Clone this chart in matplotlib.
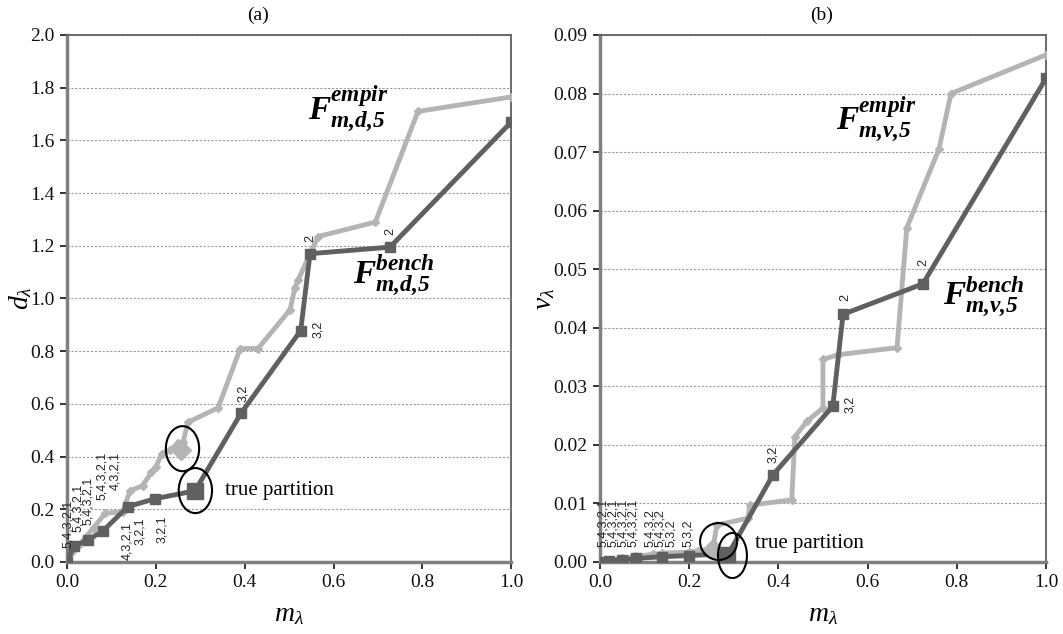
import matplotlib
matplotlib.use("Agg")
import matplotlib.pyplot as plt
from matplotlib.patches import Ellipse

plt.rcParams['font.family'] = ['Liberation Serif', 'DejaVu Serif']
plt.rcParams['mathtext.fontset'] = 'custom'
plt.rcParams['mathtext.it'] = 'Liberation Serif:italic'
plt.rcParams['mathtext.rm'] = 'Liberation Serif:italic:bold'

# ---- data, panel (a): m_lambda vs d_lambda ----
a_bench_m = [0.0, 0.016, 0.047, 0.081, 0.137, 0.198, 0.288, 0.392, 0.526, 0.547, 0.727, 1.0]
a_bench_d = [0.0, 0.06, 0.083, 0.118, 0.21, 0.24, 0.27, 0.565, 0.878, 1.17, 1.195, 1.67]
a_emp_m = [0.0, 0.03, 0.06, 0.086, 0.125, 0.142, 0.17, 0.19, 0.2, 0.213, 0.232,
           0.25, 0.262, 0.257, 0.272, 0.34, 0.39, 0.43, 0.502, 0.513, 0.52, 0.565, 0.694, 0.79, 1.0]
a_emp_d = [0.0, 0.07, 0.13, 0.185, 0.19, 0.27, 0.29, 0.34, 0.36, 0.41, 0.425,
           0.45, 0.455, 0.425, 0.53, 0.585, 0.81, 0.81, 0.957, 1.04, 1.07, 1.235, 1.29, 1.71, 1.765]
a_true_bench = (0.288, 0.27)
a_true_emp = (0.257, 0.425)

a_lab_text = ["5,4,3,2,1", "5,4,3,2,1", "5,4,3,2,1", "5,4,3,2,1", "4,3,2,1",
              "4,3,2,1", "3,2,1", "3,2,1", "3,2", "3,2", "2", "2"]
a_lab_m = [0.002, 0.025, 0.047, 0.079, 0.108, 0.135, 0.164, 0.214, 0.396, 0.564, 0.547, 0.727]
a_lab_d = [0.053, 0.114, 0.14, 0.235, 0.273, 0.152, 0.171, 0.178, 0.607, 0.884, 1.215, 1.24]
a_lab_va = ["bottom", "bottom", "bottom", "bottom", "bottom", "top", "top", "top",
            "bottom", "center", "bottom", "bottom"]

# ---- data, panel (b): m_lambda vs v_lambda ----
b_bench_m = [0.0, 0.02, 0.05, 0.08, 0.14, 0.2, 0.288, 0.388, 0.522, 0.545, 0.724, 1.0]
b_bench_v = [0.0, 0.0002, 0.0004, 0.0006, 0.0009, 0.0011, 0.0014, 0.0149, 0.0266, 0.0423, 0.0475, 0.0826]
b_emp_m = [0.0, 0.02, 0.05, 0.08, 0.12, 0.14, 0.2, 0.22, 0.253, 0.262, 0.332, 0.336, 0.43,
           0.437, 0.464, 0.5, 0.5, 0.534, 0.666, 0.688, 0.76, 0.787, 1.0]
b_emp_v = [0.0, 0.0003, 0.0006, 0.001, 0.0013, 0.0015, 0.0017, 0.0019, 0.0022, 0.0063, 0.0075,
           0.0097, 0.0106, 0.0214, 0.024, 0.0263, 0.0346, 0.0354, 0.0366, 0.0571, 0.0705, 0.080, 0.0866]
b_true_bench = (0.285, 0.0012)
b_true_emp = (0.253, 0.0022)

b_lab_text = ["5,4,3,2,1", "5,4,3,2,1", "5,4,3,2,1", "5,4,3,2,1", "5,4,3,2", "5,4,3,2",
              "5,3,2", "5,3,2", "3,2", "3,2", "2", "2"]
b_lab_m = [0.007, 0.029, 0.052, 0.074, 0.112, 0.135, 0.16, 0.197, 0.388, 0.56, 0.549, 0.724]
b_lab_v = [0.0026, 0.0026, 0.0026, 0.0026, 0.0026, 0.0026, 0.0026, 0.0026, 0.0169, 0.027, 0.0445, 0.0505]
b_lab_va = ["bottom"] * 9 + ["center", "bottom", "bottom"]

dark = '#606060'
light = '#b4b4b4'

fig = plt.figure(figsize=(10.63, 6.34), dpi=100)
ax1 = fig.add_axes([0.063, 0.1136, 0.418, 0.8312])
ax2 = fig.add_axes([0.5644, 0.1136, 0.4196, 0.8312])


def style(ax, ymax, ystep, fmt):
    ax.set_xlim(0, 1.0)
    ax.set_ylim(0, ymax)
    ax.set_xticks([0, 0.2, 0.4, 0.6, 0.8, 1.0])
    ax.set_xticklabels(['0.0', '0.2', '0.4', '0.6', '0.8', '1.0'])
    n = int(round(ymax / ystep))
    yt = [i * ystep for i in range(n + 1)]
    ax.set_yticks(yt)
    ax.set_yticklabels([fmt % v for v in yt])
    ax.tick_params(direction='out', length=5, width=1.2, colors='#111111', labelsize=14, pad=4)
    ax.yaxis.grid(True, linestyle=(0, (2, 1.5)), color='#999999', linewidth=0.8)
    ax.set_axisbelow(True)
    for s in ['left', 'bottom']:
        ax.spines[s].set_color('#808080')
        ax.spines[s].set_linewidth(2.5)
    for s in ['top', 'right']:
        ax.spines[s].set_color('#606060')
        ax.spines[s].set_linewidth(1.3)
    ax.set_xlabel(r'$m_\lambda$', fontsize=20, labelpad=8)


def draw(ax, bm, bv, em, ev, tb, te):
    ax.plot(em, ev, color=light, lw=3.5, marker='D', ms=4, mec=light, mfc=light, zorder=3)
    ax.plot(bm, bv, color=dark, lw=3.5, marker='s', ms=6.5, mec=dark, mfc=dark, zorder=4)
    ax.plot([te[0]], [te[1]], marker='D', ms=10, color=light, zorder=5)
    ax.plot([tb[0]], [tb[1]], marker='s', ms=12, color=dark, zorder=5)


# panel (a)
style(ax1, 2.0, 0.2, '%.1f')
draw(ax1, a_bench_m, a_bench_d, a_emp_m, a_emp_d, a_true_bench, a_true_emp)
ax1.set_ylabel(r'$d_\lambda$', fontsize=20)
ax1.yaxis.set_label_coords(-0.075, 0.5)
for t, x, y, va in zip(a_lab_text, a_lab_m, a_lab_d, a_lab_va):
    ax1.text(x, y, t, rotation=90, ha='center', va=va, fontsize=9,
             family='Liberation Sans', color='#222222', zorder=6)
for cx, cy in [(0.26, 0.43), (0.289, 0.271)]:
    ax1.add_patch(Ellipse((cx, cy), 0.075, 0.171, fill=False, ec='black', lw=1.5,
                          zorder=7, clip_on=False))
ax1.text(0.356, 0.273, 'true partition', fontsize=15, ha='left', va='center')
ax1.text(0.633, 1.72, r'$\mathrm{F}^{\mathrm{empir}}_{\mathrm{m{,}d{,}5}}$', fontsize=24,
         ha='center', va='center')
ax1.text(0.735, 1.09, r'$\mathrm{F}^{\mathrm{bench}}_{\mathrm{m{,}d{,}5}}$', fontsize=24,
         ha='center', va='center')

# panel (b)
style(ax2, 0.09, 0.01, '%.2f')
draw(ax2, b_bench_m, b_bench_v, b_emp_m, b_emp_v, b_true_bench, b_true_emp)
ax2.set_ylabel(r'$v_\lambda$', fontsize=20)
ax2.yaxis.set_label_coords(-0.095, 0.5)
for t, x, y, va in zip(b_lab_text, b_lab_m, b_lab_v, b_lab_va):
    ax2.text(x, y, t, rotation=90, ha='center', va=va, fontsize=9,
             family='Liberation Sans', color='#222222', zorder=6)
ax2.add_patch(Ellipse((0.266, 0.0035), 0.083, 0.0063, fill=False, ec='black', lw=1.5,
                      zorder=7, clip_on=False))
ax2.add_patch(Ellipse((0.297, 0.0011), 0.065, 0.0077, fill=False, ec='black', lw=1.5,
                      zorder=7, clip_on=False))
ax2.text(0.348, 0.0031, 'true partition', fontsize=15, ha='left', va='center')
ax2.text(0.619, 0.0756, r'$\mathrm{F}^{\mathrm{empir}}_{\mathrm{m{,}v{,}5}}$', fontsize=24,
         ha='center', va='center')
ax2.text(0.86, 0.0453, r'$\mathrm{F}^{\mathrm{bench}}_{\mathrm{m{,}v{,}5}}$', fontsize=24,
         ha='center', va='center')

fig.text(258 / 1063, 1 - 15 / 634, '(a)', ha='center', va='center', fontsize=14)
fig.text(822 / 1063, 1 - 15 / 634, '(b)', ha='center', va='center', fontsize=14)

fig.savefig('out.png', dpi=100)
